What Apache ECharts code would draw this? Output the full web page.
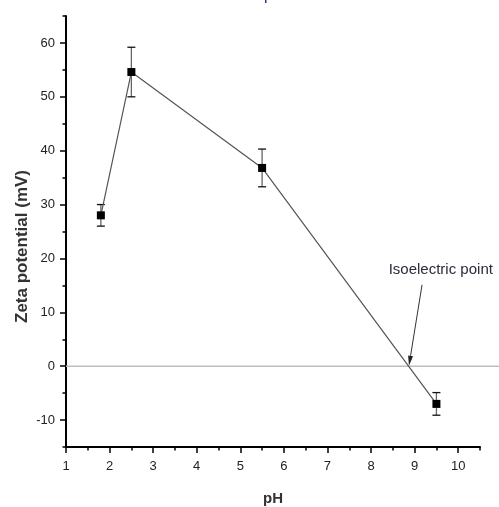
<!DOCTYPE html>
<html>
<head>
<meta charset="utf-8">
<script src="https://cdn.jsdelivr.net/npm/echarts@6/dist/echarts.min.js"></script>
<style>html,body{margin:0;padding:0;background:#fff;}#c{width:499px;height:507px;}</style>
</head>
<body>
<div id="c"></div>
<script>
// ---- data ----
const pH = [1.8, 2.5, 5.5, 9.5];
const zeta = [28.0, 54.6, 36.8, -7.0];
const zetaErr = [2.0, 4.6, 3.5, 2.1];
const xTickLabels = [1, 2, 3, 4, 5, 6, 7, 8, 9, 10];
const xMinorTicks = [1.5, 2.5, 3.5, 4.5, 5.5, 6.5, 7.5, 8.5, 9.5, 10.5];
const yTickLabels = [-10, 0, 10, 20, 30, 40, 50, 60];
const yMinorTicks = [-15, -5, 5, 15, 25, 35, 45, 55, 65];
const isoLabel = 'Isoelectric point';
const isoTextAt = [9.6, 17.9];
const isoArrowFrom = [9.17, 15.1];
const isoArrowTo = [8.87, 0.1];

const chart = echarts.init(document.getElementById('c'), null, {renderer: 'canvas'});
const font = 'Liberation Sans, Arial, sans-serif';
const axisCommon = {
  type: 'value',
  splitLine: {show: false},
  axisLine: {show: true, onZero: false, lineStyle: {color: '#000', width: 2}},
};
const option = {
  animation: false,
  backgroundColor: '#fff',
  grid: {left: 66, right: 19, top: 16, bottom: 60, containLabel: false, outerBoundsMode: 'none'},
  graphic: [{type: 'rect', shape: {x: 265, y: 0, width: 1.5, height: 3}, style: {fill: '#2a3a8a'}}],
  xAxis: [
    Object.assign({}, axisCommon, {
      min: 1, max: 10.5,
      name: 'pH', nameLocation: 'middle', nameGap: 44, nameMoveOverlap: false,
      nameTextStyle: {fontFamily: font, fontSize: 15, fontWeight: 'bold', color: '#333'},
      axisTick: {show: true, length: 6, lineStyle: {color: '#000', width: 1.5}, customValues: xTickLabels},
      axisLabel: {margin: 13, fontFamily: font, fontSize: 13, color: '#222', customValues: xTickLabels}
    }),
    Object.assign({}, axisCommon, {
      min: 1, max: 10.5, position: 'bottom',
      axisLine: {show: false, onZero: false},
      axisTick: {show: true, length: 3.5, lineStyle: {color: '#000', width: 1.5}, customValues: xMinorTicks},
      axisLabel: {show: false}
    })
  ],
  yAxis: [
    Object.assign({}, axisCommon, {
      min: -15, max: 65,
      name: 'Zeta potential (mV)', nameLocation: 'middle', nameGap: 35, nameMoveOverlap: false,
      nameTextStyle: {fontFamily: font, fontSize: 17, fontWeight: 'bold', color: '#333', padding: [0, 30, 0, 0]},
      axisTick: {show: true, length: 6, lineStyle: {color: '#000', width: 1.5}, customValues: yTickLabels},
      axisLabel: {margin: 11, fontFamily: font, fontSize: 13, color: '#222', customValues: yTickLabels}
    }),
    Object.assign({}, axisCommon, {
      min: -15, max: 65, position: 'left',
      axisLine: {show: false, onZero: false},
      axisTick: {show: true, length: 3.5, lineStyle: {color: '#000', width: 1.5}, customValues: yMinorTicks},
      axisLabel: {show: false}
    })
  ],
  series: [
    {
      type: 'custom', name: 'zero', z: 1,
      data: [[0]],
      renderItem: function (params, api) {
        const p = api.coord([1, 0]);
        return {type: 'line', shape: {x1: p[0], y1: p[1], x2: api.getWidth(), y2: p[1]},
          style: {stroke: '#bdbdbd', lineWidth: 1.5}};
      }
    },
    {
      type: 'custom', name: 'err', z: 2,
      data: pH.map((x, i) => [x, zeta[i], zetaErr[i]]),
      renderItem: function (params, api) {
        const x = api.value(0), y = api.value(1), e = api.value(2);
        const t = api.coord([x, y + e]);
        const b = api.coord([x, y - e]);
        const hw = 4;
        return {type: 'group', children: [
          {type: 'line', shape: {x1: t[0], y1: t[1], x2: b[0], y2: b[1]}, style: {stroke: '#666', lineWidth: 1.3}},
          {type: 'line', shape: {x1: t[0] - hw, y1: t[1], x2: t[0] + hw, y2: t[1]}, style: {stroke: '#111', lineWidth: 1.3}},
          {type: 'line', shape: {x1: b[0] - hw, y1: b[1], x2: b[0] + hw, y2: b[1]}, style: {stroke: '#111', lineWidth: 1.3}}
        ]};
      }
    },
    {
      type: 'line', name: 'zeta', z: 3,
      data: pH.map((x, i) => [x, zeta[i]]),
      symbol: 'rect', symbolSize: 8, showSymbol: true,
      itemStyle: {color: '#000'},
      lineStyle: {color: '#555', width: 1.2}
    },
    {
      type: 'custom', name: 'annot', z: 4,
      data: [[0]],
      renderItem: function (params, api) {
        const s = api.coord(isoArrowFrom);
        const e = api.coord(isoArrowTo);
        const tp = api.coord(isoTextAt);
        const dx = e[0] - s[0], dy = e[1] - s[1];
        const L = Math.sqrt(dx * dx + dy * dy);
        const ux = dx / L, uy = dy / L;
        const hl = 10, hw = 2.5;
        const bx = e[0] - ux * hl, by = e[1] - uy * hl;
        return {type: 'group', children: [
          {type: 'line', shape: {x1: s[0], y1: s[1], x2: bx, y2: by}, style: {stroke: '#333', lineWidth: 1}},
          {type: 'polygon', shape: {points: [[e[0], e[1]], [bx - uy * hw, by + ux * hw], [bx + uy * hw, by - ux * hw]]}, style: {fill: '#222'}},
          {type: 'text', x: tp[0], y: tp[1], style: {text: isoLabel, fontFamily: font, fontSize: 15, fill: '#2b2b3b', align: 'center', verticalAlign: 'middle'}}
        ]};
      }
    }
  ]
};
chart.setOption(option);
</script>
</body>
</html>
